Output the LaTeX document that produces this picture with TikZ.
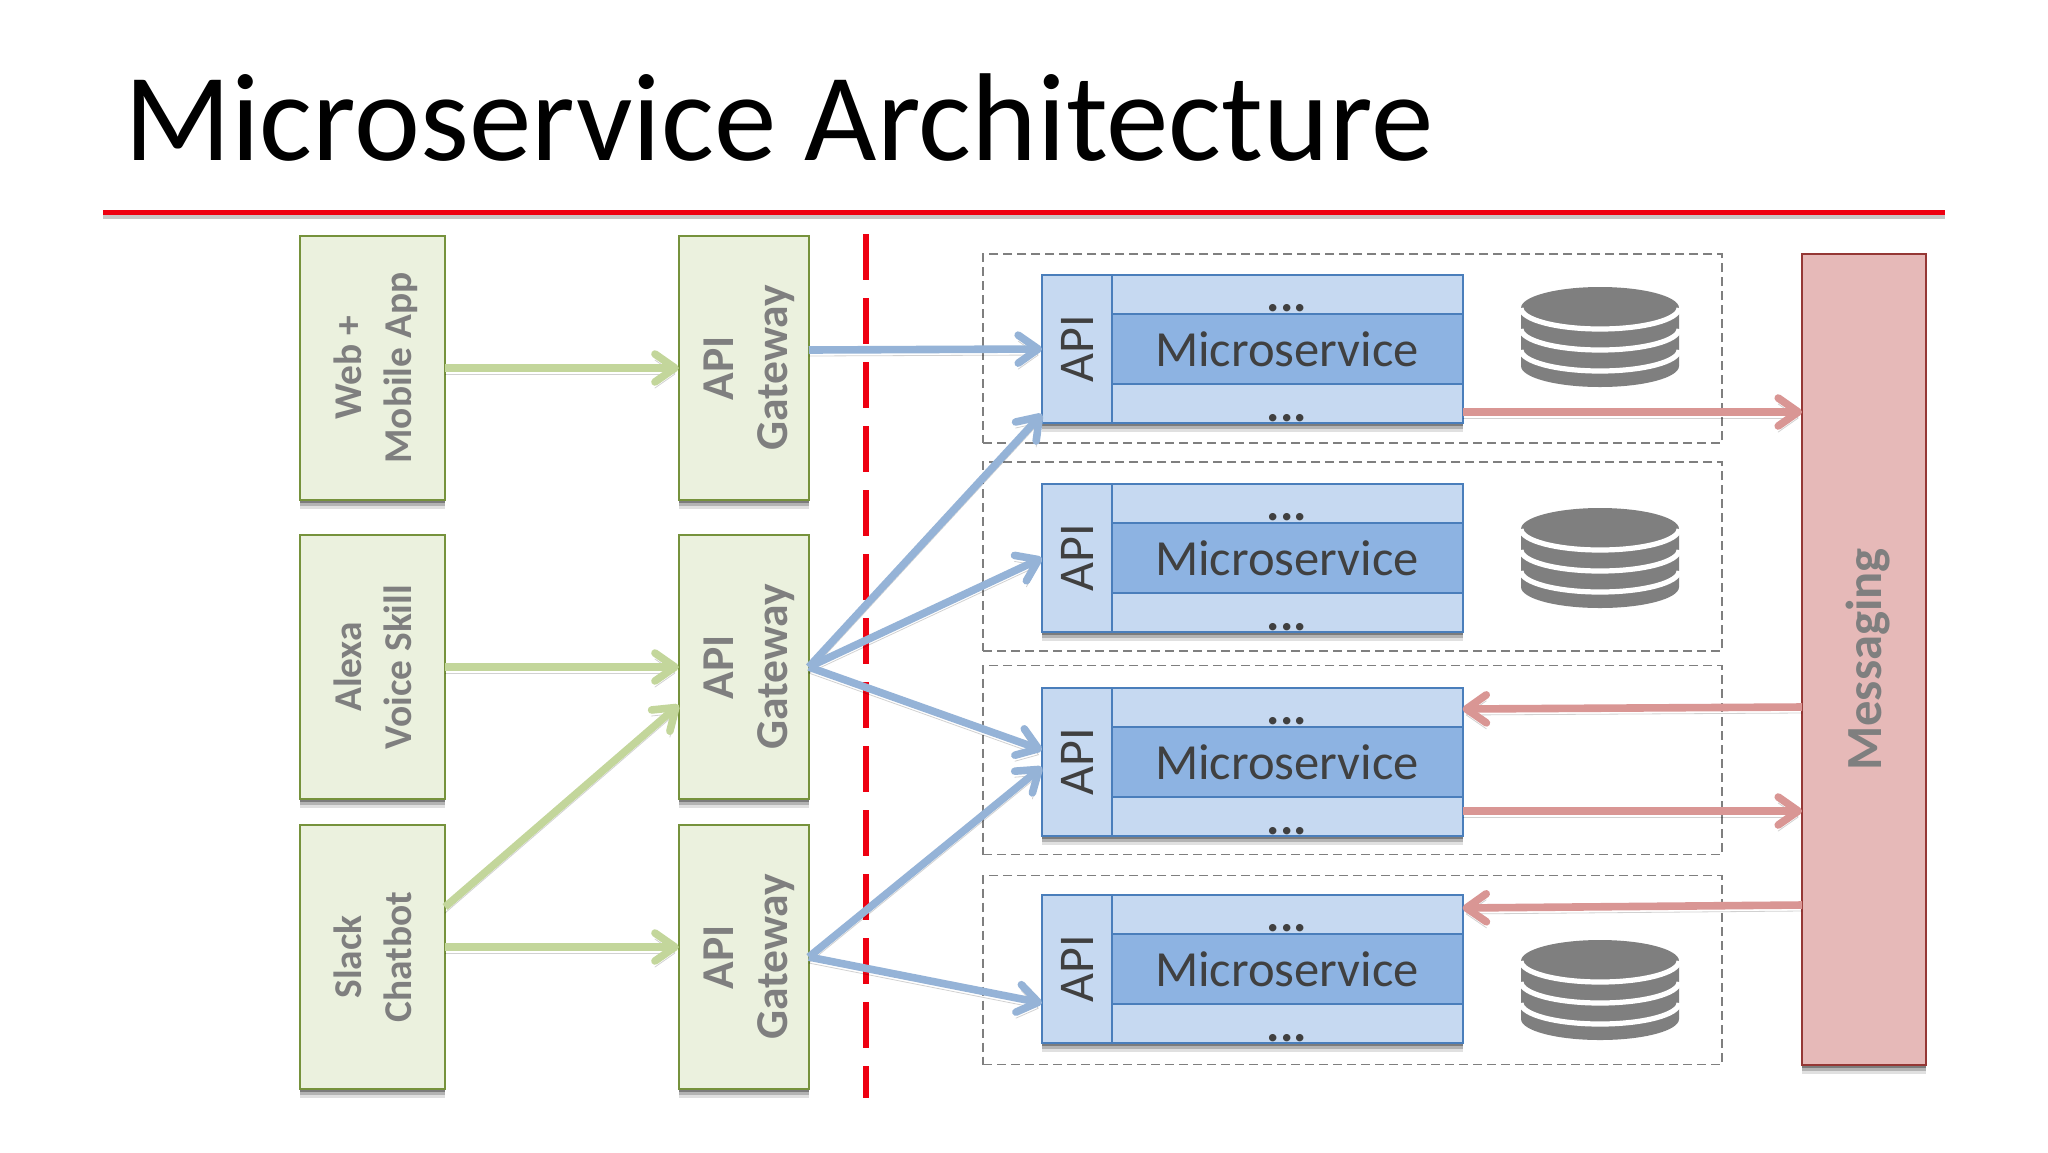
\documentclass[tikz,border=0pt]{standalone}
\usepackage{fontspec}
\setmainfont{Carlito}
\usetikzlibrary{arrows.meta,shadows,calc}
\definecolor{gfill}{HTML}{EBF1DE}
\definecolor{gline}{HTML}{76923C}
\definecolor{garrow}{HTML}{C3D69B}
\definecolor{bfill}{HTML}{C6D9F1}
\definecolor{bmid}{HTML}{8DB3E2}
\definecolor{bline}{HTML}{4A7EBB}
\definecolor{barrow}{HTML}{95B3D7}
\definecolor{rfill}{HTML}{E6B9B8}
\definecolor{rline}{HTML}{953735}
\definecolor{rarrow}{HTML}{D99694}
\definecolor{tgray}{HTML}{7F7F7F}
\definecolor{tdark}{HTML}{404040}
\definecolor{cutred}{HTML}{EE0011}
\newcommand{\vtext}[4]{\hspace*{#4}\rotatebox{90}{\begin{tabular}{@{}c@{}}#1\\[#3]#2\end{tabular}}}
\tikzset{
  softshadow/.style={drop shadow={shadow xshift=0pt,shadow yshift=-4.5pt,opacity=.12,fill=black},
                     drop shadow={shadow xshift=0pt,shadow yshift=-3pt,opacity=.2,fill=black},
                     drop shadow={shadow xshift=0pt,shadow yshift=-1.5pt,opacity=.3,fill=black}},
  gbox/.style={draw=gline,fill=gfill,line width=1.1pt,inner sep=0pt,outer sep=0pt,minimum height=132pt,softshadow,
    text=tgray,font=\fontsize{19.7}{23}\selectfont\bfseries,align=center},
  client/.style={gbox,minimum width=72.5pt},
  gateway/.style={gbox,minimum width=65pt,font=\fontsize{22.8}{25}\selectfont\bfseries},
  group/.style={draw=tgray,dash pattern=on 4.5pt off 2.5pt,line width=.7pt,inner sep=0pt,outer sep=0pt,minimum width=369.5pt,minimum height=94.5pt},
  ms/.style={draw=bline,fill=bfill,line width=1pt,inner sep=0pt,outer sep=0pt,minimum width=210.5pt,minimum height=74pt,softshadow},
  msapi/.style={draw=bline,fill=bfill,line width=1pt,inner sep=0pt,outer sep=0pt,minimum width=35pt,minimum height=74pt,
    text=tdark,font=\fontsize{25}{28}\selectfont},
  msband/.style={draw=bline,fill=bmid,line width=1pt,inner sep=0pt,outer sep=0pt,minimum width=175.5pt,minimum height=35pt,
    text=tdark,font=\fontsize{25.3}{28}\selectfont},
  dots/.style={text=tdark,inner sep=0pt,font=\fontsize{25}{28}\selectfont\bfseries,anchor=base},
  conn/.style={line width=3.8pt,-{Straight Barb[length=10pt,width=14pt,round]},
    preaction={draw=black,opacity=.18,transform canvas={yshift=-3pt}}},
  greenconn/.style={conn,draw=garrow},
  blueconn/.style={conn,draw=barrow},
  redconn/.style={conn,draw=rarrow},
  dbfill/.style={fill=tgray,draw=none},
  dbline/.style={draw=white,line width=2.6pt},
  titletext/.style={anchor=base west,inner sep=0pt,font=\fontsize{62.5}{70}\selectfont,text=black},
}
\newcommand{\dbicon}[1]{%
  \fill[dbfill] (1521,#1+21) arc[start angle=180,end angle=0,x radius=79,y radius=-21]
     -- (1679,#1+79) arc[start angle=0,end angle=-180,x radius=79,y radius=-21] -- cycle;
  \foreach \k in {21,42,63}
    \draw[dbline] (1521,#1+\k) arc[start angle=180,end angle=360,x radius=79,y radius=-21];
}
\begin{document}
\begin{tikzpicture}[x=0.5pt,y=-0.5pt]
\useasboundingbox (0,0) rectangle (2048,1152);
\fill[white] (0,0) rectangle (2048,1152);

% title
\node[titletext] (title) at (124,160) {Microservice Architecture};
\coordinate (ruleL) at (103,212);
\coordinate (ruleR) at (1945,212);
\draw[black,opacity=.22,line width=2.5pt] ([yshift=-2pt]ruleL) -- ([yshift=-2pt]ruleR);
\draw[cutred,line width=2.5pt] (ruleL) -- (ruleR);

% groups
\foreach \n/\y in {1/348.5,2/556.5,3/760,4/970}
  \node[group] (group\n) at (1352.5,\y) {};

% client boxes
\node[client] (web) at (372.5,368) {\vtext{Web +}{Mobile App}{2pt}{4.5pt}};
\node[client] (alexa) at (372.5,667) {\vtext{Alexa}{Voice Skill}{2pt}{4.5pt}};
\node[client] (slack) at (372.5,957) {\vtext{Slack}{Chatbot}{2pt}{4.5pt}};

% gateways
\node[gateway] (gw1) at (743.75,368) {\vtext{API}{Gateway}{2pt}{7pt}};
\node[gateway] (gw2) at (743.75,667) {\vtext{API}{Gateway}{2pt}{7pt}};
\node[gateway] (gw3) at (743.75,957) {\vtext{API}{Gateway}{2pt}{7pt}};

% boundary
\coordinate (cutT) at (866,234);
\coordinate (cutB) at (866,1098);
\draw[cutred,line width=3pt,dash pattern=on 23pt off 9pt] (cutT) -- (cutB);

% microservices
\foreach \n/\y in {1/349,2/558,3/762,4/969}{
  \node[ms] (ms\n) at (1252,\y) {};
  \node[msapi] (api\n) at (1077,\y) {\rotatebox{90}{API}};
  \node[msband] (band\n) at (1287,\y) {\raisebox{-1pt}{Microservice}};
  \node[dots] (dotsa\n) at (1287,\y-38) {...};
  \node[dots] (dotsb\n) at (1287,\y+72) {...};
}

% databases
\dbicon{287}
\dbicon{508}
\dbicon{940}

% messaging
\node[draw=rline,fill=rfill,line width=1.1pt,inner sep=0pt,outer sep=0pt,minimum width=62pt,minimum height=405.5pt,softshadow,
  text=tgray,font=\fontsize{25.3}{28}\selectfont\bfseries] (msg) at (1864,659.5) {\hspace*{4pt}\rotatebox{90}{Messaging}};

% green connectors
\draw[greenconn] (web.east) -- (gw1.west);
\draw[greenconn] (alexa.east) -- (gw2.west);
\draw[greenconn] ([yshift=25pt]slack.east) -- ([yshift=47pt]gw2.south west);
\draw[greenconn] ([yshift=5pt]slack.east) -- ([yshift=5pt]gw3.west);

% blue connectors
\draw[blueconn] ([yshift=9pt]gw1.east) -- (api1.west);
\draw[blueconn] (gw2.east) -- ([yshift=4.5pt]api1.south west);
\draw[blueconn] (gw2.east) -- (api2.west);
\draw[blueconn] (gw2.east) -- ([yshift=6pt]api3.west);
\draw[blueconn] (gw3.east) -- ([yshift=-2.5pt]api3.west);
\draw[blueconn] (gw3.east) -- ([yshift=20pt]api4.south west);

% red connectors
\draw[redconn] ([yshift=5.5pt]ms1.south east) -- ([yshift=5.5pt]ms1.south east -| msg.west);
\draw[redconn] ([yshift=12.5pt]ms3.south east) -- ([yshift=12.5pt]ms3.south east -| msg.west);
\draw[redconn] ([yshift=-9.5pt]ms3.north -| msg.west) -- ([yshift=-10.5pt]ms3.north east);
\draw[redconn] ([yshift=-5pt]ms4.north -| msg.west) -- ([yshift=-6.5pt]ms4.north east);
\end{tikzpicture}
\end{document}
